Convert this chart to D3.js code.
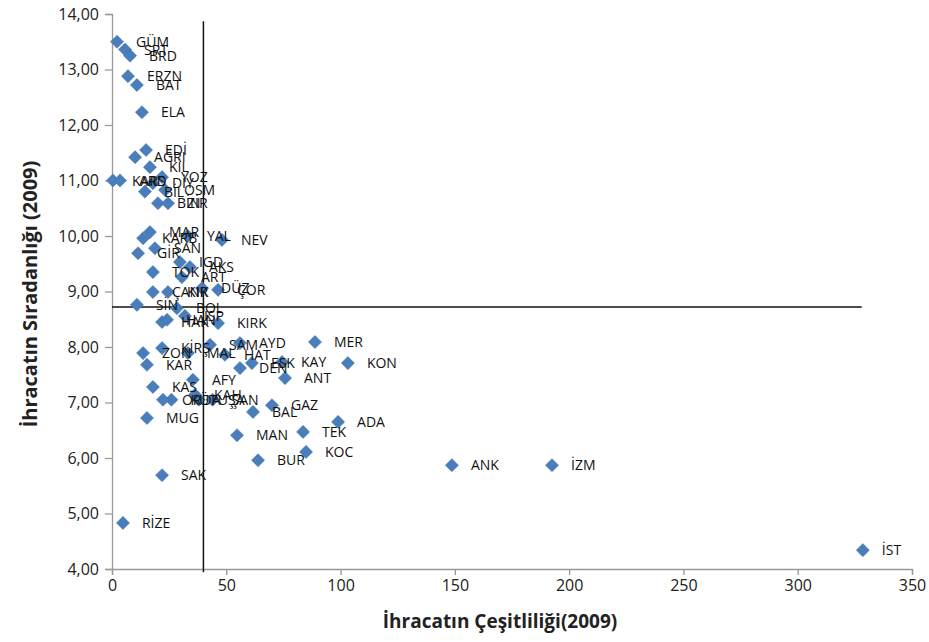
<!DOCTYPE html>
<html>
<head>
<meta charset="utf-8">
<script src="https://cdn.jsdelivr.net/npm/d3@7"></script>
<style>
  body { margin: 0; background: #fff; }
  svg { display: block; }
  .tick text { font-family: "Open Sans", sans-serif; font-size: 16px; fill: #222; }
  .lbl { font-family: "Open Sans", sans-serif; font-size: 14px; fill: #111; }
  .title { font-family: "Open Sans", sans-serif; font-size: 19px; font-weight: bold; fill: #222; }
</style>
</head>
<body>
<div id="chart"></div>
<script>
// province codes and their values (x: export diversity, y: export ordinariness)
var names = ['GÜM', 'SRT', 'BRD', 'ERZN', 'BAT', 'ELA', 'EDİ', 'AĞRI', 'KİL', 'KARS', 'ARD',
  'BİL', 'DİY', 'YOZ', 'OSM', 'BİN', 'ZİR', 'MAR', 'KARB', 'YAL', 'NEV', 'GİR', 'SAN',
  'IGD', 'AKS', 'TOK', 'ART', 'ÇANK', 'KIR', 'DÜZ', 'ÇOR', 'SİN', 'BOL', 'ISP', 'HAK', 'HAN', 'KIRK',
  'ZON', 'KAR', 'KİRŞ', 'MAL', 'SAM', 'HAT', 'AYD', 'DEN', 'ESK', 'KAY', 'ANT', 'MER', 'KON',
  'AFY', 'KAS', 'KAH', 'KÜT', 'ORDA', 'MUG', 'UŞA', 'ŞAN', 'BAL', 'GAZ', 'MAN', 'TEK', 'ADA',
  'KOC', 'BUR', 'SAK', 'RİZE', 'ANK', 'İZM', 'İST'];
var xs = [2.2, 5.7, 7.9, 7.0, 10.9, 13.1, 14.9, 10.1, 16.6, 0.4, 3.5,
  14.4, 17.9, 21.9, 23.2, 20.1, 24.5, 16.6, 13.6, 33.2, 48.1, 11.4, 18.8,
  29.7, 34.1, 17.9, 30.6, 17.9, 24.5, 39.4, 46.4, 10.9, 28.4, 31.9, 21.9, 24.1, 46.4,
  13.6, 15.3, 21.9, 33.2, 42.9, 49.4, 56.0, 56.0, 61.2, 74.4, 75.7, 88.8, 103.2,
  35.4, 17.9, 36.3, 26.0, 22.3, 15.3, 38.0, 44.0, 61.7, 70.0, 54.7, 83.6, 98.9,
  84.9, 63.9, 21.9, 4.8, 148.7, 192.5, 328.5];
var ys = [13.50, 13.36, 13.25, 12.88, 12.72, 12.23, 11.55, 11.42, 11.24, 11.00, 11.00,
  10.80, 10.95, 11.06, 10.83, 10.59, 10.59, 10.07, 9.96, 10.00, 9.93, 9.69, 9.78,
  9.53, 9.44, 9.35, 9.26, 8.99, 8.99, 9.06, 9.03, 8.76, 8.70, 8.56, 8.45, 8.49, 8.43,
  7.89, 7.68, 7.98, 7.89, 8.04, 7.86, 8.07, 7.62, 7.71, 7.73, 7.44, 8.09, 7.71,
  7.41, 7.28, 7.14, 7.05, 7.05, 6.72, 7.05, 7.05, 6.83, 6.95, 6.41, 6.47, 6.65,
  6.11, 5.96, 5.69, 4.83, 5.87, 5.87, 4.34];

// quadrant split lines
var vLineX = 40, vLineY = [3.94, 13.87];
var hLineY = 8.72, hLineX = [0, 328];

var xTicks = [0, 50, 100, 150, 200, 250, 300, 350];
var yTicks = [4, 5, 6, 7, 8, 9, 10, 11, 12, 13, 14];

var W = 929, H = 642;
var margin = { top: 14, right: 17, bottom: 73, left: 112 };
var width = W - margin.left - margin.right,
    height = H - margin.top - margin.bottom;

var svg = d3.select('#chart').append('svg')
  .attr('width', W)
  .attr('height', H);

var g = svg.append('g')
  .attr('transform', 'translate(' + margin.left + ',' + margin.top + ')');

var x = d3.scaleLinear().domain([0, 350]).range([0, width]);
var y = d3.scaleLinear().domain([4, 14]).range([height, 0]);

var fmt = function(d) { return d.toFixed(2).replace('.', ','); };

var yAxis = g.append('g')
  .call(d3.axisLeft(y).tickValues(yTicks).tickFormat(fmt).tickSize(7).tickPadding(6));
var xAxis = g.append('g')
  .attr('transform', 'translate(0,' + height + ')')
  .call(d3.axisBottom(x).tickValues(xTicks).tickFormat(d3.format('d')).tickSize(6).tickPadding(5));

g.selectAll('.domain, .tick line').attr('stroke', '#999').attr('stroke-width', 1.3);

// reference lines
g.append('line')
  .attr('x1', x(vLineX)).attr('x2', x(vLineX))
  .attr('y1', y(vLineY[0])).attr('y2', y(vLineY[1]))
  .attr('stroke', '#111').attr('stroke-width', 1.5);
g.append('line')
  .attr('x1', x(hLineX[0])).attr('x2', x(hLineX[1]))
  .attr('y1', y(hLineY)).attr('y2', y(hLineY))
  .attr('stroke', '#111').attr('stroke-width', 1.5);

var pts = names.map(function(n, i) { return { name: n, x: xs[i], y: ys[i] }; });

var diamond = d3.symbol().type(d3.symbolDiamond2).size(110);

g.selectAll('path.pt').data(pts).enter().append('path')
  .attr('class', 'pt')
  .attr('d', diamond)
  .attr('transform', function(d) { return 'translate(' + x(d.x) + ',' + y(d.y) + ')'; })
  .attr('fill', '#4a7ebb')
  .attr('stroke', '#3f70ac')
  .attr('stroke-width', 0.5);

g.selectAll('text.lbl').data(pts).enter().append('text')
  .attr('class', 'lbl')
  .attr('x', function(d) { return x(d.x) + 19; })
  .attr('y', function(d) { return y(d.y); })
  .attr('dy', '0.36em')
  .text(function(d) { return d.name; });

// axis titles
svg.append('text')
  .attr('class', 'title')
  .attr('x', 500).attr('y', 628)
  .attr('text-anchor', 'middle')
  .text('İhracatın Çeşitliliği(2009)');

svg.append('text')
  .attr('class', 'title')
  .attr('transform', 'translate(37,294) rotate(-90)')
  .attr('text-anchor', 'middle')
  .style('font-size', '20px')
  .text('İhracatın  Sıradanlığı (2009)');
</script>
</body>
</html>
